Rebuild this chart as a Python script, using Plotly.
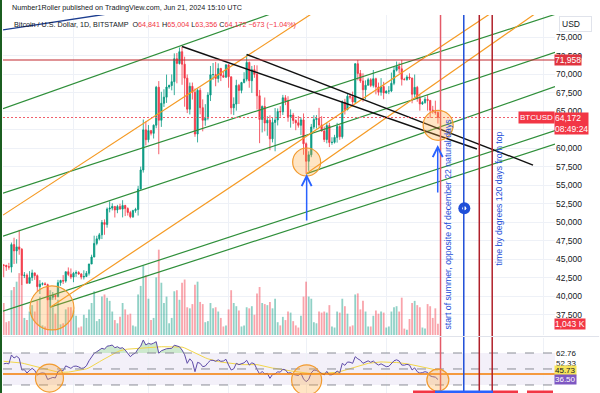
import plotly.graph_objects as go
import pandas as pd

# ---------------- data ----------------
candle_dates = pd.date_range("2024-01-03", "2024-06-21", freq="D")
opens = [44950, 42850, 44180, 44160, 43970, 43930, 46970, 46120, 46660, 46340, 42780, 42840, 41730, 42510, 43140,
         42770, 41280, 41620, 41670, 41550, 39510, 39850, 40080, 39930, 41820, 42120, 42030, 43300, 42940,
         42580, 43080, 43190, 42990, 42580, 42660, 43090, 44340, 45290, 47130, 47750, 48290, 49960, 49700, 51790,
         51910, 52140, 51660, 52120, 51780, 52260, 51850, 51320, 50730, 51570, 51730, 54480, 57070, 62500,
         61170, 62400, 62030, 63130, 68270, 63800, 66100, 66930, 68300, 68500, 69020, 72120, 71480, 73080, 71390,
         69500, 65300, 68390, 67600, 61940, 67850, 65500, 63800, 64080, 67210, 69960, 69990, 69450, 70800, 69850, 69620,
         71300, 69680, 65480, 65990, 68520, 67840, 68900, 69360, 71630, 69150, 70640, 70010, 67110, 63900, 65670,
         63430, 63810, 61280, 63510, 63840, 64990, 64940, 66840, 66410, 64290, 64500, 63770, 63460, 63120, 63850,
         60620, 58250, 59120, 62880, 63890, 64030, 63160, 62330, 61190, 63080, 60790, 60820, 61480, 62950, 61580,
         66250, 65240, 67050, 66940, 66270, 71450, 70140, 69120, 67930, 68540, 69290, 68510, 69420, 68300, 67600, 68360,
         67490, 67750, 67760, 68800, 70570, 71080, 70760, 69340, 69300, 69650, 69510, 67320, 68250, 66760, 66010,
         66190, 66640, 66490, 65170, 64960, 64841]
highs = [45500, 44750, 44350, 44230, 44500, 47250, 47900, 47700, 48970, 46500, 43250, 43070, 43380, 43580, 43190,
         42930, 42160, 41860, 41880, 41680, 40130, 40550, 40280, 42200, 42200, 42840, 43310, 43880, 43740,
         43280, 43480, 43380, 43120, 43500, 43390, 44380, 45600, 48180, 48160, 48550, 50300, 50380, 52000, 52820,
         52570, 52160, 52350, 52500, 52980, 52360, 52020, 51540, 51680, 51950, 54920, 57520, 63900, 63650,
         63150, 62430, 63230, 68450, 69100, 67650, 67990, 69980, 68630, 70000, 72850, 72900, 73650, 73780, 72400,
         70000, 68900, 68900, 68100, 68100, 68200, 66630, 65980, 67600, 71150, 71550, 71700, 71500, 70900, 70350, 71350,
         71330, 69700, 66900, 69280, 68720, 69000, 70300, 72700, 71750, 71150, 71260, 71230, 67900, 65800, 66880,
         64350, 64470, 64100, 65450, 65400, 65700, 67230, 67200, 67050, 65270, 64800, 63920, 64380, 64200, 64720,
         60800, 59600, 63300, 64480, 64500, 65480, 64350, 62960, 63450, 63450, 61500, 61830, 63450, 63120, 66480,
         66700, 67450, 67400, 67680, 71500, 71950, 70600, 70150, 69200, 69550, 69500, 70600, 69560, 68900, 69500, 69000,
         67850, 68420, 70250, 71050, 71750, 71600, 71958, 69550, 69900, 70150, 69560, 69990, 68450, 67300, 66400,
         66950, 67200, 66500, 65750, 66450, 65004]
lows = [40750, 42620, 42550, 43420, 43580, 43200, 44350, 44400, 45600, 41500, 42440, 41720, 41720, 42060, 42200,
        40680, 40280, 41440, 41500, 39450, 38500, 39490, 39510, 39830, 41400, 41640, 41810, 42700, 42300,
        41880, 42600, 42880, 42270, 42250, 42570, 42790, 44340, 45260, 46880, 47540, 47720, 48300, 49260, 51330,
        51600, 50640, 51220, 51700, 50650, 50830, 50900, 50530, 50580, 51280, 50900, 54450, 56720, 60400,
        60800, 61750, 61330, 62720, 59200, 62900, 65600, 66150, 68060, 67850, 67200, 68800, 71340, 68600, 65630,
        64770, 64580, 66600, 61560, 60800, 64600, 62300, 63050, 63800, 66400, 69250, 68400, 68900, 69100, 69600, 69580,
        68200, 64600, 64500, 65100, 66000, 67450, 68800, 69060, 68200, 67500, 69550, 65250, 60700, 62150, 62300,
        61700, 59750, 60800, 59600, 63100, 64270, 64510, 65850, 63600, 62800, 63300, 62450, 62800, 61800, 59130,
        56550, 56950, 58800, 62600, 62680, 62800, 62300, 60850, 60680, 60170, 60480, 60650, 60770, 61150, 61310,
        64580, 65130, 66650, 65850, 66070, 69200, 68850, 66300, 66650, 68500, 68280, 68230, 67300, 67150, 67130, 66650,
        67400, 67330, 67600, 68550, 70400, 70150, 68500, 69200, 69150, 69250, 66100, 66900, 66300, 65100, 65880,
        66050, 65100, 64100, 64700, 64550, 63356]
closes = [42850, 44180, 44160, 43970, 43930, 46970, 46120, 46660, 46340, 42780, 42840, 41730, 42510, 43140, 42770,
          41280, 41620, 41670, 41550, 39510, 39850, 40080, 39930, 41820, 42120, 42030, 43300, 42940, 42580,
          43080, 43190, 42990, 42580, 42660, 43090, 44340, 45290, 47130, 47750, 48290, 49960, 49700, 51790, 51910,
          52140, 51660, 52120, 51780, 52260, 51850, 51320, 50730, 51570, 51730, 54480, 57070, 62500, 61170,
          62400, 62030, 63130, 68270, 63800, 66100, 66930, 68300, 68500, 69020, 72120, 71480, 73080, 71390, 69500,
          65300, 68390, 67600, 61940, 67850, 65500, 63800, 64080, 67210, 69960, 69990, 69450, 70800, 69850, 69620, 71300,
          69680, 65480, 65990, 68520, 67840, 68900, 69360, 71630, 69150, 70640, 70010, 67110, 63900, 65670, 63430,
          63810, 61280, 63510, 63840, 64990, 64940, 66840, 66410, 64290, 64500, 63770, 63460, 63120, 63850, 60620,
          58250, 59120, 62880, 63890, 64030, 63160, 62330, 61190, 63080, 60790, 60820, 61480, 62950, 61580, 66250,
          65240, 67050, 66940, 66270, 71450, 70140, 69120, 67930, 68540, 69290, 68510, 69420, 68300, 67600, 68360, 67490,
          67750, 67760, 68800, 70570, 71080, 70760, 69340, 69300, 69650, 69510, 67320, 68250, 66760, 66010, 66190,
          66640, 66490, 65170, 64960, 64845, 64172]
volume_k = [6.5, 3.5, 3.0, 1.2, 1.3, 4.2, 4.5, 5.0, 5.8, 5.5, 1.6, 1.4, 2.2, 2.8, 2.2, 3.2, 3.6, 0.9, 0.8, 3.4,
            4.2, 2.6, 2.0, 3.3, 1.0, 1.1, 2.4, 2.6, 2.6,
            2.3, 1.8, 0.7, 0.8, 1.9, 1.6, 2.4, 3.0, 4.1, 1.3, 1.5, 3.6, 3.8, 3.5, 3.2, 2.2, 1.4, 1.1, 1.7, 3.0,
            2.4, 1.9, 2.0, 0.9, 0.8, 3.8, 4.6, 6.5, 5.6,
            3.4, 1.4, 1.6, 5.4, 8.0, 4.9, 3.0, 3.6, 1.1, 1.6, 4.1, 4.2, 3.3, 4.9, 5.2, 2.6, 2.5, 2.9, 4.7, 5.0,
            3.1, 2.9, 1.2, 1.3, 3.0, 2.5, 2.6, 2.2, 1.6, 0.8, 0.9,
            2.4, 4.2, 3.0, 2.7, 2.3, 0.8, 0.9, 2.6, 2.5, 2.7, 1.9, 3.9, 4.5, 3.0, 2.9, 2.8, 3.1, 2.5, 3.4, 1.2,
            0.9, 1.7, 1.4, 2.2, 2.1, 1.3, 0.9, 0.7, 1.8, 3.6,
            5.0, 3.6, 3.4, 1.2, 1.1, 2.2, 2.1, 2.2, 2.1, 2.8, 0.8, 0.7, 2.2, 2.1, 3.4, 2.7, 2.0, 0.8, 0.9, 3.8,
            3.9, 2.4, 3.2, 2.2, 0.8, 0.8, 1.8, 2.3, 2.0, 2.2, 2.1,
            0.7, 0.8, 2.2, 2.6, 2.7, 2.2, 3.5, 0.6, 0.5, 1.5, 3.0, 3.2, 2.8, 2.6, 0.7, 0.6, 2.9, 2.7, 1.6, 2.5,
            1.043]

rsi_dates = pd.date_range("2024-01-05", "2024-06-21", freq="D")
rsi_values = [52.0, 52.5, 52.0, 60.8, 57.8, 59.5, 57.5, 45.9, 46.2, 42.9, 45.5, 47.5, 45.5, 40.9, 42.5, 43.0,
              42.5, 36.5, 37.5, 38.5, 38.0, 44.5, 45.5, 45.2, 50.0, 48.7, 47.5,
              49.5, 49.8, 49.0, 47.5, 47.9, 50.0, 55.0, 58.5, 62.5, 64.0, 65.7, 67.5, 66.5, 69.5, 70.0, 70.7,
              68.0, 69.0, 67.4, 68.0, 65.7, 62.5, 59.1, 61.5, 62.8, 67.0, 69.5, 75.7, 70.7,
              72.4, 71.5, 72.5, 74.0, 62.5, 65.0, 66.0, 67.0, 67.2, 67.4, 70.5, 69.5, 69.0, 65.7, 61.0, 52.5,
              57.0, 54.1, 44.2, 53.5, 52.5, 49.2, 49.8, 53.0, 55.5, 55.5, 54.5, 56.0, 54.5, 54.8, 56.5,
              50.8, 45.9, 47.0, 52.5, 51.2, 52.5, 53.0, 55.5, 50.8, 53.0, 52.0, 46.5, 41.9, 44.5, 41.9, 42.5,
              37.6, 41.5, 42.0, 44.0, 43.8, 46.6, 46.0, 42.8, 43.2, 41.5, 40.9, 40.5, 42.6, 37.0,
              34.3, 36.5, 43.0, 45.9, 45.5, 44.0, 42.8, 41.0, 44.5, 41.0, 41.2, 42.5, 44.8, 43.0, 52.5, 50.5,
              53.8, 53.6, 52.5, 59.1, 57.0, 55.5, 52.5, 54.1, 55.0, 53.5, 54.8, 52.5, 50.8, 52.0, 50.5,
              49.2, 49.5, 52.5, 55.0, 56.0, 54.8, 50.8, 50.7, 51.5, 50.8, 45.9, 48.0, 44.2, 42.8, 43.3, 44.2,
              43.5, 40.0, 39.2, 38.8, 36.5]
rsi_ma_values = [54.5, 54.3, 54.0, 54.2, 54.0, 53.8, 53.5, 52.8, 52.2, 51.5, 51.0,
                 50.6, 50.0, 49.2, 48.5, 47.8, 47.0, 46.0, 45.2, 44.5, 44.0, 43.8, 43.6, 43.5, 43.6, 43.8, 44.2,
                 44.6, 45.0, 45.5, 46.0, 46.5, 47.0, 48.0, 49.3, 51.0, 52.5, 54.0, 55.5, 57.0, 58.5, 60.0, 61.5,
                 62.8, 64.0, 65.0, 65.8, 66.3, 66.6, 66.8, 66.9, 67.0, 67.2, 67.5, 68.0, 68.3,
                 68.6, 68.8, 69.0, 69.2, 69.0, 69.0, 69.0, 69.0, 69.0, 69.1, 69.2, 69.2, 69.0, 68.6, 67.8, 66.5,
                 65.5, 64.2, 62.5, 61.3, 60.0, 59.0, 58.0, 57.0, 56.2, 55.6, 55.0, 54.3, 53.8, 53.4, 53.2,
                 52.8, 52.2, 51.8, 51.5, 51.3, 51.2, 51.2, 51.3, 51.2, 51.4, 51.5, 51.2, 50.7, 50.0, 49.4, 48.8,
                 48.2, 47.8, 47.5, 47.2, 46.8, 46.5, 46.0, 45.5, 45.0, 44.6, 44.2, 43.8, 43.4, 42.9,
                 42.5, 42.2, 42.0, 42.0, 42.2, 42.3, 42.4, 42.5, 42.6, 42.7, 42.8, 43.0, 43.6, 44.2, 45.0, 45.8,
                 46.7, 47.5, 48.2, 49.1, 49.9, 50.6, 51.3, 52.0, 52.5, 52.8, 53.2, 53.6, 53.8, 53.9, 53.8,
                 53.5, 53.3, 53.2, 53.3, 53.4, 53.2, 52.8, 52.4, 52.0, 51.6, 51.0, 50.5, 49.8, 49.2, 48.6, 48.0,
                 47.5, 47.0, 46.5, 46.1, 45.73]

price_ticks = [37500, 40000, 42500, 45000, 47500, 50000, 52500, 55000, 57500, 60000, 62500, 65000, 67500, 70000,
               72500, 75000]
price_tick_labels = ["37,500", "40,000", "42,500", "45,000", "47,500", "50,000", "52,500", "55,000", "57,500",
                     "60,000", "62,500", "65,000", "67,500", "70,000", "72,500", "75,000"]
rsi_ticks = [62.76, 52.33, 25.00]
rsi_tick_labels = ["62.76", "52.33", "25.00"]
rsi_band_levels = [62.76, 46.9, 31.0]
rsi_orange_level = 41.9
rsi_last_labels = [("45.73", 45.73), ("36.50", 36.50)]
resistance_level = 71958
last_price = 64172
last_volume_label = "1,043 K"
countdown = "08:49:24"
month_starts = ["2024-02-01", "2024-03-01", "2024-04-01", "2024-05-01", "2024-06-01", "2024-07-01", "2024-08-01"]

# trend lines: (start date, start price, end date, end price)
green_lines = [
    ("2024-01-04 17:30", 65360, "2024-04-28 14:00", 79590),
    ("2024-01-04 17:30", 53930, "2024-08-05 07:00", 78130),
    ("2024-01-04 17:30", 48110, "2024-08-05 07:00", 72980),
    ("2024-05-01", 56550, "2024-08-05 07:00", 68360),
    ("2024-01-04 17:30", 37960, "2024-08-05 07:00", 62390),
    ("2024-01-23", 38500, "2024-08-05 07:00", 60560),
]
orange_lines = [
    ("2024-01-04 17:30", 50960, "2024-05-10 05:00", 79820),
    ("2024-01-23", 38500, "2024-07-15", 79100),
    ("2024-05-01", 56550, "2024-08-05 07:00", 80100),
]
black_lines = [
    ("2024-03-14", 73780, "2024-07-06 02:00", 59910),
    ("2024-04-08", 72700, "2024-07-27 19:00", 57740),
]
blue_top_line = [("2024-01-04 17:30", 76030, "2024-03-20 22:00", 80100)]
vertical_lines = ["2024-06-22", "2024-07-01", "2024-07-07", "2024-07-12"]
price_circles = [("2024-01-23 16:00", 38400), ("2024-05-01 05:00", 58150), ("2024-06-21 02:00", 63120)]
rsi_circles = [("2024-01-22 17:00", 37.9), ("2024-05-01 05:00", 36.0), ("2024-06-20 23:00", 35.9)]
arrows = [("2024-05-01 05:00", 50030, 56530), ("2024-06-20 22:00", 53820, 60450)]
pin_point = ("2024-07-01 05:00", 51885)
vertical_texts = [("start of summer, opposite of december 22 natural days", "2024-06-25 02:00"),
                  ("time by degrees 120 days from top", "2024-07-14 14:00")]

# ---------------- styles / layout geometry ----------------
W, H = 600, 393
ML, MR, MT, MB = 3, 45, 15, 0
PW, PH = W - ML - MR, H - MT - MB


def px_x(px):
    return (px - ML) / PW


def px_y(py):
    return (H - MB - py) / PH


FONT = "Liberation Sans, Arial, sans-serif"
UP, DN = "#089981", "#f23645"
GREEN, ORANGE, BLACK = "#2f8f3a", "#f59a23", "#111111"
price_dom = [px_y(335), 1.0]
rsi_dom = [0.0, px_y(338)]
price_range = [34736, 78045]
vol_range = [0, 30]
rsi_range = [23.04, 77.66]
x_range = ["2024-01-04 17:30", "2024-08-05 07:00"]
vline_colors = ["#e45a68", "#1f4fd8", "#b0202a", "#b0202a"]
price_circle_r = [22, 14, 15]
rsi_circle_r = [14, 15, 11]
vtext_y = [px_y(224), px_y(267.5)]

fig = go.Figure()

# volume
vol_colors = ["rgba(8,153,129,0.45)" if c >= o else "rgba(242,54,69,0.45)" for o, c in zip(opens, closes)]
fig.add_trace(go.Bar(x=candle_dates, y=volume_k, marker=dict(color=vol_colors, line=dict(width=0)),
                     width=0.7 * 86400000, xaxis="x", yaxis="y", hoverinfo="skip"))

# candles
fig.add_trace(go.Candlestick(x=candle_dates, open=opens, high=highs, low=lows, close=closes,
                             increasing=dict(line=dict(color=UP, width=0.8), fillcolor=UP),
                             decreasing=dict(line=dict(color=DN, width=0.8), fillcolor=DN),
                             whiskerwidth=0, xaxis="x", yaxis="y3", hoverinfo="skip"))


def add_lines(lines, color, width):
    for d0, p0, d1, p1 in lines:
        fig.add_trace(go.Scatter(x=[d0, d1], y=[p0, p1], mode="lines", line=dict(color=color, width=width),
                                 xaxis="x", yaxis="y3", hoverinfo="skip"))


add_lines(green_lines, GREEN, 1.2)
add_lines(orange_lines, ORANGE, 1.2)
add_lines(black_lines, BLACK, 1.4)
add_lines(blue_top_line, "#1c3d8f", 1.4)

# pin marker
fig.add_trace(go.Scatter(x=[pin_point[0]], y=[pin_point[1]], mode="markers", xaxis="x", yaxis="y3",
                         marker=dict(symbol="triangle-down", size=9, color="#1f4fd8"), hoverinfo="skip"))
fig.add_trace(go.Scatter(x=[pin_point[0]], y=[pin_point[1]], mode="markers", xaxis="x", yaxis="y3",
                         marker=dict(symbol="circle", size=12, color="#1f4fd8"), hoverinfo="skip"))
fig.add_trace(go.Scatter(x=[pin_point[0]], y=[pin_point[1]], mode="markers", xaxis="x", yaxis="y3",
                         marker=dict(symbol="circle", size=4, color="white"), hoverinfo="skip"))

# RSI
band_top = rsi_band_levels[0]
fig.add_trace(go.Scatter(x=rsi_dates, y=[band_top] * len(rsi_dates), mode="lines", line=dict(width=0),
                         xaxis="x", yaxis="y2", hoverinfo="skip"))
fig.add_trace(go.Scatter(x=rsi_dates, y=[max(v, band_top) for v in rsi_values], mode="lines",
                         line=dict(width=0), fill="tonexty", fillcolor="rgba(76,175,80,0.28)",
                         xaxis="x", yaxis="y2", hoverinfo="skip"))
fig.add_trace(go.Scatter(x=rsi_dates, y=rsi_ma_values, mode="lines", line=dict(color="#f2d64b", width=1),
                         xaxis="x", yaxis="y2", hoverinfo="skip"))
fig.add_trace(go.Scatter(x=rsi_dates, y=rsi_values, mode="lines", line=dict(color="#5e4ba8", width=1),
                         xaxis="x", yaxis="y2", hoverinfo="skip"))

shapes = []
# RSI band background and dashed levels
shapes.append(dict(type="rect", xref="paper", yref="y2", x0=0, x1=1, y0=rsi_band_levels[2], y1=rsi_band_levels[0],
                   fillcolor="rgba(126,87,194,0.09)", line=dict(width=0), layer="below"))
for lv in rsi_band_levels:
    shapes.append(dict(type="line", xref="paper", yref="y2", x0=0, x1=1, y0=lv, y1=lv,
                       line=dict(color="#8a8d96", width=1, dash="dash")))
shapes.append(dict(type="line", xref="paper", yref="y2", x0=0, x1=1, y0=rsi_orange_level, y1=rsi_orange_level,
                   line=dict(color="#f57c00", width=1.5)))
# resistance & last price lines
shapes.append(dict(type="line", xref="paper", yref="y3", x0=0, x1=1, y0=resistance_level, y1=resistance_level,
                   line=dict(color="#c2282f", width=1.2)))
shapes.append(dict(type="line", xref="paper", yref="y3", x0=0, x1=1, y0=last_price, y1=last_price,
                   line=dict(color="#f0606c", width=1, dash="2px,2px")))
# vertical lines
for d, col in zip(vertical_lines, vline_colors):
    shapes.append(dict(type="line", xref="x", yref="paper", x0=d, x1=d, y0=0, y1=1,
                       line=dict(color=col, width=1.5)))
# circles
for (d, p), r in zip(price_circles, price_circle_r):
    shapes.append(dict(type="circle", xref="x", yref="y3", xsizemode="pixel", ysizemode="pixel",
                       xanchor=d, yanchor=p, x0=-r, x1=r, y0=-r, y1=r,
                       fillcolor="rgba(255,170,60,0.30)", line=dict(color="#f29a2e", width=1.2)))
for (d, v), r in zip(rsi_circles, rsi_circle_r):
    shapes.append(dict(type="circle", xref="x", yref="y2", xsizemode="pixel", ysizemode="pixel",
                       xanchor=d, yanchor=v, x0=-r, x1=r, y0=-r, y1=r,
                       fillcolor="rgba(255,170,60,0.30)", line=dict(color="#f29a2e", width=1.2)))
# pane separator
shapes.append(dict(type="line", xref="paper", yref="paper", x0=0, x1=1.08, y0=px_y(336.5), y1=px_y(336.5),
                   line=dict(color="#e0e3eb", width=1)))
# left frame border
shapes.append(dict(type="rect", xref="paper", yref="paper", x0=px_x(0), x1=px_x(2), y0=-0.01, y1=px_y(0),
                   fillcolor="#1b5e20", line=dict(width=0)))
# time-axis highlight blocks at bottom
for x0, x1, col in [(413, 435, "#f23645"), (435, 493, "#2962ff"), (493, 518, "#f23645"), (527, 553, "#f23645")]:
    shapes.append(dict(type="rect", xref="paper", yref="paper", x0=px_x(x0), x1=px_x(x1), y0=0, y1=px_y(390.5),
                       fillcolor=col, line=dict(width=0)))

annotations = []
# arrows
for d, p_tail, p_tip in arrows:
    annotations.append(dict(x=d, y=p_tip, ax=d, ay=p_tail, xref="x", yref="y3", axref="x", ayref="y3",
                            showarrow=True, arrowhead=5, arrowsize=1.3, arrowwidth=1.5, arrowcolor="#2962ff",
                            text="", standoff=0))
# vertical texts
for (txt, d), yy in zip(vertical_texts, vtext_y):
    annotations.append(dict(x=d, y=yy, xref="x", yref="paper", text=txt, showarrow=False, textangle=-90,
                            font=dict(family=FONT, size=8.7, color="#1f4fd8")))
# header
annotations.append(dict(x=px_x(10), y=px_y(8), xref="paper", yref="paper", xanchor="left", yanchor="middle",
                        showarrow=False, text="Number1Roller published on TradingView.com, Jun 21, 2024 15:10 UTC",
                        font=dict(family=FONT, size=7.2, color="#131722")))
R = "#f23645"
chg = closes[-1] - closes[-2]
pct = chg / closes[-2] * 100


def red(s):
    return f"<span style='color:{R}'>{s}</span>"


hdr2 = ("Bitcoin / U.S. Dollar, 1D, BITSTAMP&nbsp;&nbsp;O" + red(f"{opens[-1]:,}") + " H" + red(f"{highs[-1]:,}")
        + " L" + red(f"{lows[-1]:,}") + " C" + red(f"{closes[-1]:,}") + " "
        + red(f"\u2212{abs(chg)} (\u2212{abs(pct):.2f}%)"))
annotations.append(dict(x=px_x(12), y=px_y(24), xref="paper", yref="paper", xanchor="left", yanchor="middle",
                        showarrow=False, text=hdr2, font=dict(family=FONT, size=7.2, color="#131722")))
# axis label boxes
annotations.append(dict(x=1, y=resistance_level, xref="paper", yref="y3", xanchor="left", yanchor="middle",
                        xshift=-1, showarrow=False, text=f"{resistance_level:,}", bgcolor="#e0343f",
                        borderpad=0, font=dict(family=FONT, size=8.5, color="white")))
annotations.append(dict(x=1, y=last_price, xref="paper", yref="y3", xanchor="right", yanchor="middle",
                        showarrow=False, text="BTCUSD", bgcolor="#f23645", borderpad=1,
                        font=dict(family=FONT, size=8, color="white")))
annotations.append(dict(x=1, y=last_price, xref="paper", yref="y3", xanchor="left", yanchor="top", yshift=6,
                        xshift=-1, showarrow=False, text=f"{last_price:,}<br>{countdown}", bgcolor="#f23645",
                        borderpad=0, align="left", font=dict(family=FONT, size=8.5, color="white")))
annotations.append(dict(x=1, y=volume_k[-1], xref="paper", yref="y", xanchor="left", yanchor="middle",
                        xshift=-1, showarrow=False, text=last_volume_label, bgcolor="#f23645", borderpad=0,
                        font=dict(family=FONT, size=8.5, color="white")))
annotations.append(dict(x=px_x(559), y=px_y(24), xref="paper", yref="paper", xanchor="left", yanchor="middle",
                        showarrow=False, text="USD&nbsp;&nbsp;&nbsp;&nbsp;", bgcolor="white", bordercolor="#e0e3eb",
                        borderwidth=1, borderpad=2, font=dict(family=FONT, size=8.5, color="#131722")))
for (txt, v), bg, fc in zip(rsi_last_labels, ["#f5e35a", "#7e57c2"], ["#131722", "white"]):
    annotations.append(dict(x=1, y=v, xref="paper", yref="y2", xanchor="left", yanchor="middle", xshift=-1,
                            showarrow=False, text=txt, bgcolor=bg, borderpad=0,
                            font=dict(family=FONT, size=8, color=fc)))

fig.update_layout(
    width=W, height=H, margin=dict(l=ML, r=MR, t=MT, b=MB),
    paper_bgcolor="white", plot_bgcolor="white", showlegend=False, hovermode=False,
    font=dict(family=FONT, size=8.5, color="#131722"),
    xaxis=dict(type="date", range=x_range, showgrid=True, gridcolor="#eef1f7", tickvals=month_starts,
               showticklabels=False, ticks="", zeroline=False, showline=False, rangeslider=dict(visible=False),
               anchor="y2"),
    yaxis=dict(domain=price_dom, range=vol_range, visible=False, showgrid=False, zeroline=False),
    yaxis3=dict(overlaying="y", side="right", anchor="x", range=price_range, tickvals=price_ticks,
                ticktext=price_tick_labels, showgrid=True, gridcolor="#eef1f7", zeroline=False, ticks="",
                showline=False, tickfont=dict(family=FONT, size=8.5, color="#131722")),
    yaxis2=dict(domain=rsi_dom, side="right", anchor="x", range=rsi_range, tickvals=rsi_ticks,
                ticktext=rsi_tick_labels, showgrid=False, zeroline=False, ticks="", showline=False,
                tickfont=dict(family=FONT, size=8, color="#131722")),
    shapes=shapes, annotations=annotations,
)

fig.write_html("out.html", config={"displayModeBar": False, "staticPlot": True},
               post_script="document.body.style.margin='0px';document.body.style.overflow='hidden';")
